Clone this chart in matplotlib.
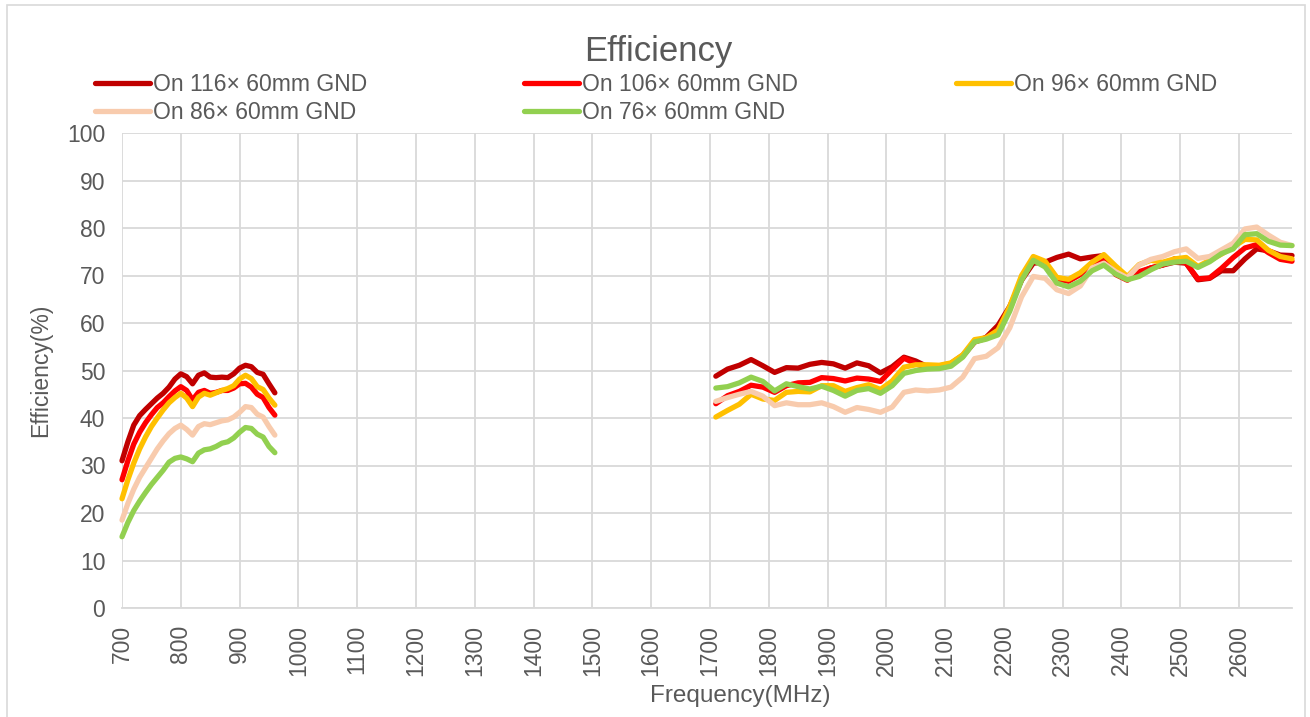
import matplotlib
matplotlib.use("Agg")
import matplotlib.pyplot as plt
import numpy as np
from matplotlib.patches import Rectangle

plt.rcParams['font.family'] = ['Liberation Sans', 'DejaVu Sans']

# ---- data ----
freq_low = [700, 710, 720, 730, 740, 750, 760, 770, 780, 790, 800, 810, 820, 830,
            840, 850, 860, 870, 880, 890, 900, 910, 920, 930, 940, 950, 960]
freq_high = [1710, 1730, 1750, 1770, 1790, 1810, 1830, 1850, 1870, 1890,
             1910, 1930, 1950, 1970, 1990, 2010, 2030, 2050, 2070, 2090,
             2110, 2130, 2150, 2170, 2190, 2210, 2230, 2250, 2270, 2290,
             2310, 2330, 2350, 2370, 2390, 2410, 2430, 2450, 2470, 2490,
             2510, 2530, 2550, 2570, 2590, 2610, 2630, 2650, 2670, 2690]

gnd116_low = [31, 35, 38.5, 40.5, 41.8, 43, 44.2, 45.2, 46.5, 48.2, 49.3, 48.7, 47.2, 49.0,
              49.5, 48.6, 48.5, 48.6, 48.5, 49.3, 50.5, 51.1, 50.8, 49.6, 49.2, 47.2, 45.3]
gnd106_low = [27, 31, 34.5, 37, 39, 40.7, 42.2, 43.2, 44.5, 45.7, 46.6, 45.8, 43.8, 45.4,
              45.8, 45.2, 45.4, 45.8, 45.8, 46.3, 47.2, 47.3, 46.5, 45.0, 44.3, 42.2, 40.6]
gnd96_low = [23, 27, 30.5, 33.5, 36, 38.2, 40, 41.7, 43.2, 44.3, 45.2, 44.2, 42.4, 44.4,
             45.2, 44.8, 45.3, 45.8, 46.2, 46.8, 48.2, 49.0, 48.3, 46.6, 46.0, 44.2, 42.7]
gnd86_low = [18.5, 22, 25, 27.5, 29.5, 31.5, 33.5, 35.2, 36.7, 37.8, 38.5, 37.6, 36.4, 38.2,
             38.8, 38.6, 39.0, 39.4, 39.6, 40.2, 41.2, 42.4, 42.2, 40.8, 40.2, 38.2, 36.4]
gnd76_low = [15, 18, 20.5, 22.5, 24.3, 26, 27.5, 29, 30.7, 31.5, 31.8, 31.4, 30.8, 32.6,
             33.3, 33.5, 34.0, 34.7, 35.0, 35.8, 37.0, 38.0, 37.8, 36.6, 36.0, 34.0, 32.7]

gnd116_high = [48.8, 50.3, 51.1, 52.3, 51.0, 49.6, 50.6, 50.5, 51.3, 51.7,
               51.4, 50.5, 51.6, 51.0, 49.5, 50.8, 52.8, 52.0, 50.8, 50.9,
               51.5, 53.2, 56.0, 57.0, 59.5, 63.5, 69.0, 72.6, 72.8, 73.8,
               74.5, 73.5, 73.9, 74.2, 70.6, 69.2, 70.5, 71.6, 72.2, 72.8,
               72.6, 69.1, 69.4, 71.0, 71.0, 73.5, 75.6, 75.2, 74.3, 74.2]
gnd106_high = [43.0, 44.7, 45.6, 46.9, 46.5, 45.4, 46.8, 47.4, 47.5, 48.5,
               48.3, 47.8, 48.4, 48.2, 47.7, 50.2, 52.6, 51.4, 50.6, 50.6,
               51.3, 53.0, 56.0, 56.8, 58.5, 63.0, 69.2, 73.4, 72.4, 69.2,
               68.8, 70.2, 72.6, 73.6, 70.2, 69.0, 70.8, 71.6, 72.2, 73.5,
               72.6, 69.3, 69.5, 71.5, 73.8, 75.8, 76.5, 74.8, 73.4, 73.0]
gnd96_high = [40.2, 41.6, 42.9, 45.0, 44.0, 43.7, 45.4, 45.6, 45.5, 46.8,
              46.8, 45.6, 46.4, 47.0, 46.0, 47.8, 50.7, 51.2, 51.2, 51.1,
              51.6, 53.3, 56.5, 56.9, 58.5, 63.5, 70.0, 74.0, 73.0, 69.6,
              69.2, 70.6, 72.8, 74.4, 72.0, 69.8, 72.3, 73.2, 72.8, 73.5,
              73.8, 71.9, 73.2, 74.5, 76.0, 77.6, 77.5, 75.3, 74.0, 73.5]
gnd86_high = [43.5, 44.3, 45.0, 45.6, 44.6, 42.6, 43.2, 42.8, 42.8, 43.2,
              42.4, 41.2, 42.2, 41.8, 41.2, 42.3, 45.4, 45.9, 45.7, 45.9,
              46.5, 48.6, 52.5, 53.0, 54.8, 59.0, 65.5, 69.8, 69.4, 67.0,
              66.2, 67.8, 71.6, 72.6, 70.8, 69.5, 72.2, 73.4, 74.0, 75.0,
              75.6, 73.6, 74.0, 75.4, 76.8, 79.8, 80.2, 78.5, 77.0, 76.3]
gnd76_high = [46.3, 46.6, 47.4, 48.6, 47.7, 45.7, 47.2, 46.6, 46.1, 46.7,
              45.8, 44.6, 45.8, 46.2, 45.2, 46.8, 49.4, 50.0, 50.3, 50.4,
              50.9, 52.8, 56.0, 56.6, 57.5, 62.5, 69.0, 73.2, 71.8, 68.4,
              67.6, 68.8, 71.0, 72.2, 70.3, 69.1, 69.8, 71.2, 72.4, 72.8,
              73.0, 71.7, 72.9, 74.6, 75.6, 78.6, 78.8, 77.2, 76.4, 76.3]

labels = ["On 116× 60mm GND", "On 106× 60mm GND", "On 96× 60mm GND",
          "On 86× 60mm GND", "On 76× 60mm GND"]
colors = ["#C00000", "#FF0000", "#FFC000", "#F8CBAD", "#92D050"]
lows = [gnd116_low, gnd106_low, gnd96_low, gnd86_low, gnd76_low]
highs = [gnd116_high, gnd106_high, gnd96_high, gnd86_high, gnd76_high]

x_ticks = [700, 800, 900, 1000, 1100, 1200, 1300, 1400, 1500, 1600, 1700,
           1800, 1900, 2000, 2100, 2200, 2300, 2400, 2500, 2600]
y_ticks = [0, 10, 20, 30, 40, 50, 60, 70, 80, 90, 100]

TXT = "#595959"
GRID = "#D9D9D9"
W, H = 1310, 717

fig = plt.figure(figsize=(W / 100, H / 100), dpi=100)
# chart border
fig.add_artist(Rectangle((7 / W, -0.01), (1305 - 7) / W, 1 - 5 / H + 0.01,
                         transform=fig.transFigure, fill=False,
                         edgecolor=GRID, linewidth=1.2))

ax = fig.add_axes([122 / W, 1 - 608 / H, (1292 - 122) / W, (608 - 133) / H])

# gap between bands -> NaN
x_all = freq_low + [np.nan] + freq_high
lines = []
for lab, col, lo, hi in zip(labels, colors, lows, highs):
    y_all = lo + [np.nan] + hi
    ln, = ax.plot(x_all, y_all, color=col, linewidth=3.8, label=lab,
                  solid_joinstyle='round', solid_capstyle='round', clip_on=False)
    lines.append(ln)

ax.set_xlim(700, 2690)
ax.set_ylim(0, 100)
ax.set_xticks(x_ticks)
ax.set_yticks(y_ticks)
ax.grid(True, color=GRID, linewidth=1.3)
ax.set_axisbelow(True)
for s in ["top", "right", "left"]:
    ax.spines[s].set_visible(False)
ax.spines["bottom"].set_color(GRID)
ax.spines["bottom"].set_linewidth(1.3)
ax.tick_params(length=0, pad=12, labelsize=16.5, labelcolor=TXT)
plt.setp(ax.get_xticklabels(), rotation=90)

ax.set_ylabel("Efficiency(%)", fontsize=16.5, color=TXT)
ax.yaxis.set_label_coords((52 - 122) / 1170, 0.5)
ax.set_xlabel("Frequency(MHz)", fontsize=17.5, color=TXT)
ax.xaxis.set_label_coords((740 - 122) / 1170, (608 - 685) / 475)

fig.text(658 / W, 1 - 51 / H, "Efficiency", ha="center", va="center",
         fontsize=25, color=TXT)

# legend filled row-wise like the original (matplotlib fills by column)
order = [0, 3, 1, 4, 2]
fig.legend([lines[i] for i in order], [labels[i] for i in order],
           ncol=3, loc="upper left", bbox_to_anchor=(95 / W, 1 - 73 / H),
           frameon=False, fontsize=16.5, labelcolor=TXT,
           handlelength=2.4, handletextpad=0.13, columnspacing=6.86,
           labelspacing=0.2, borderpad=0, borderaxespad=0)

fig.savefig("out.png", dpi=100)
